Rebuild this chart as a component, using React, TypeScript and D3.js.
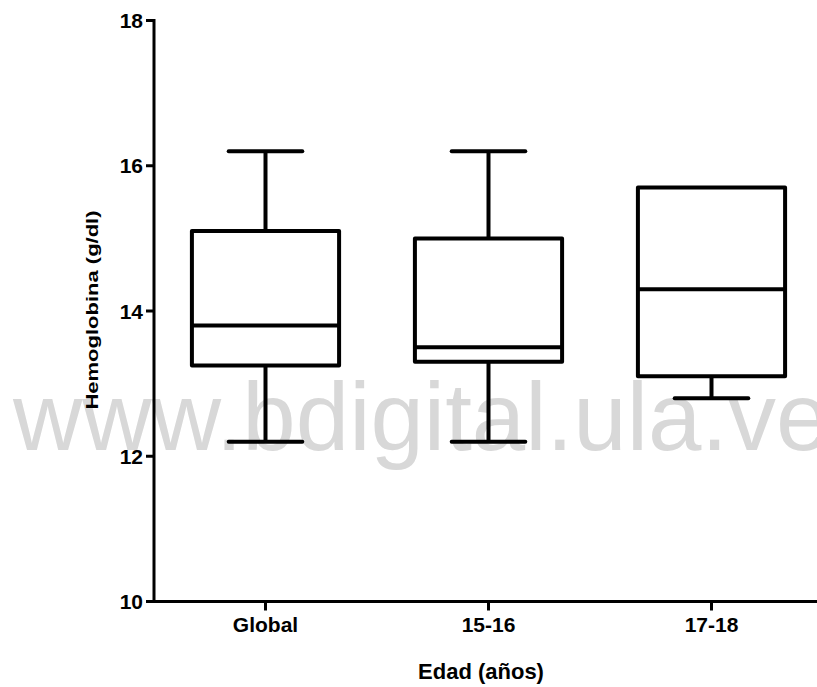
import React from "react";
import * as d3 from "d3";

// Hemoglobin by age group: box-and-whisker summaries
const categories = ["Global", "15-16", "17-18"];
const whiskerLow = [12.2, 12.2, 12.8];
const q1 = [13.25, 13.3, 13.1];
const median = [13.8, 13.5, 14.3];
const q3 = [15.1, 15.0, 15.7];
const whiskerHigh = [16.2, 16.2, 15.7];
const yTicks = [10, 12, 14, 16, 18];

const W = 817;
const H = 687;
const FONT = "'Liberation Sans', Arial, Helvetica, sans-serif";

export default function App() {
  const left = 154;
  const bandW = 223;
  const x = d3
    .scaleBand<string>()
    .domain(categories)
    .range([left, left + bandW * categories.length])
    .padding(0);
  const y = d3.scaleLinear().domain([10, 18]).range([601.5, 20.5]);

  const boxW = x.bandwidth() * 0.66;
  const capW = boxW / 2;
  const ink = "#000";

  return (
    <svg
      width={W}
      height={H}
      style={{ position: "absolute", left: 0, top: 0, background: "#fff" }}
    >
      <rect x={0} y={0} width={W} height={H} fill="#fff" />

      {/* site watermark */}
      <text
        x={13}
        y={450}
        fontFamily={FONT}
        fontSize={96}
        fill="#d8d8d8"
      >
        www.bdigital.ula.ve
      </text>

      {/* boxes */}
      {categories.map((c, i) => {
        const cx = (x(c) as number) + x.bandwidth() / 2;
        const x0 = cx - boxW / 2;
        return (
          <g key={c} stroke={ink} strokeWidth={4} fill="none">
            {whiskerHigh[i] > q3[i] && (
              <>
                <line x1={cx} x2={cx} y1={y(q3[i])} y2={y(whiskerHigh[i])} />
                <line
                  x1={cx - capW / 2}
                  x2={cx + capW / 2}
                  y1={y(whiskerHigh[i])}
                  y2={y(whiskerHigh[i])}
                  strokeLinecap="round"
                />
              </>
            )}
            {whiskerLow[i] < q1[i] && (
              <>
                <line x1={cx} x2={cx} y1={y(q1[i])} y2={y(whiskerLow[i])} />
                <line
                  x1={cx - capW / 2}
                  x2={cx + capW / 2}
                  y1={y(whiskerLow[i])}
                  y2={y(whiskerLow[i])}
                  strokeLinecap="round"
                />
              </>
            )}
            <rect
              x={x0}
              y={y(q3[i])}
              width={boxW}
              height={y(q1[i]) - y(q3[i])}
              fill="#fff"
              strokeLinejoin="round"
            />
            <line x1={x0} x2={x0 + boxW} y1={y(median[i])} y2={y(median[i])} />
          </g>
        );
      })}

      {/* y axis */}
      <line x1={left} x2={left} y1={y(18) - 1.5} y2={y(10) + 1.5} stroke={ink} strokeWidth={3} />
      {yTicks.map((t) => (
        <g key={t}>
          <line x1={left - 8} x2={left} y1={y(t)} y2={y(t)} stroke={ink} strokeWidth={3} />
          <text
            x={143}
            y={y(t)}
            dy="0.36em"
            textAnchor="end"
            fontFamily={FONT}
            fontWeight="bold"
            fontSize={21}
            fill={ink}
          >
            {t}
          </text>
        </g>
      ))}

      {/* x axis */}
      <line x1={left - 1.5} x2={x.range()[1]} y1={y(10)} y2={y(10)} stroke={ink} strokeWidth={3} />
      {categories.map((c) => {
        const cx = (x(c) as number) + x.bandwidth() / 2;
        return (
          <g key={c}>
            <line x1={cx} x2={cx} y1={y(10)} y2={y(10) + 9} stroke={ink} strokeWidth={3} />
            <text
              x={cx}
              y={632}
              textAnchor="middle"
              fontFamily={FONT}
              fontWeight="bold"
              fontSize={21}
              fill={ink}
            >
              {c}
            </text>
          </g>
        );
      })}

      {/* axis titles */}
      <text
        x={481}
        y={679}
        textAnchor="middle"
        fontFamily={FONT}
        fontWeight="bold"
        fontSize={22}
        fill={ink}
      >
        Edad (años)
      </text>
      <text
        transform="translate(97.5,310) rotate(-90) scale(1,0.72)"
        textAnchor="middle"
        fontFamily={FONT}
        fontWeight="bold"
        fontSize={22}
        fill={ink}
      >
        Hemoglobina (g/dl)
      </text>
    </svg>
  );
}
